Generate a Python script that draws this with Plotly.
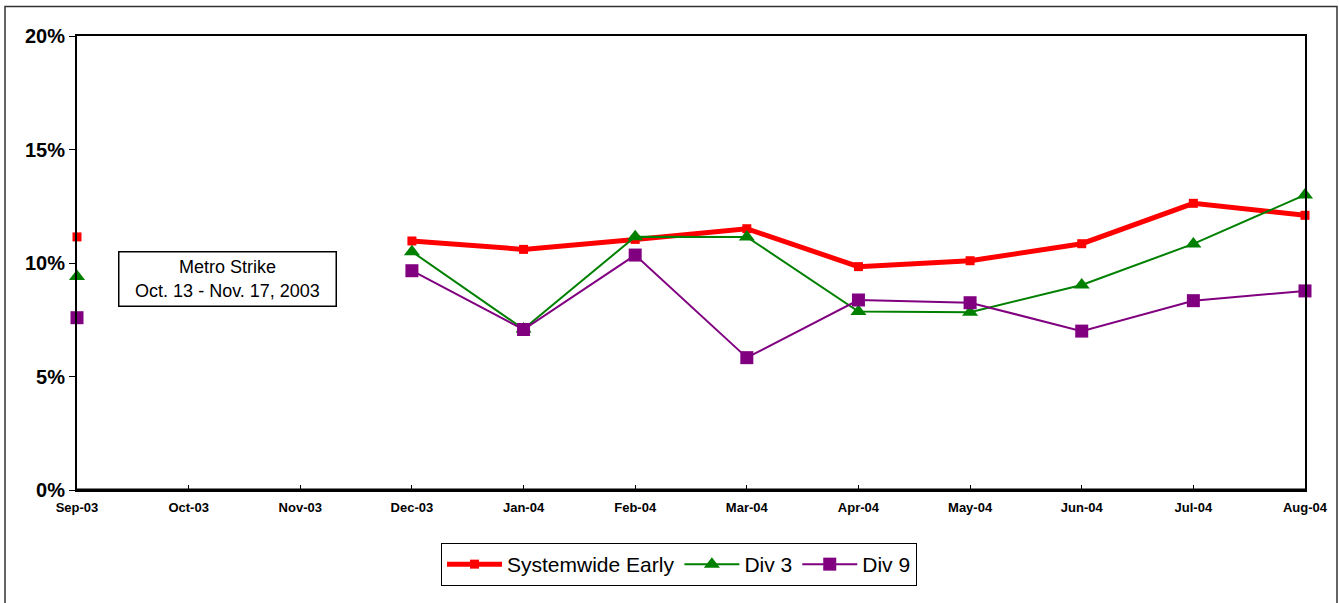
import plotly.graph_objects as go

months = ["Sep-03", "Oct-03", "Nov-03", "Dec-03", "Jan-04", "Feb-04", "Mar-04",
          "Apr-04", "May-04", "Jun-04", "Jul-04", "Aug-04"]
systemwide = [0.1115, None, None, 0.1097, 0.1060, 0.1104, 0.1151, 0.0984, 0.1010, 0.1085, 0.1263, 0.1210]
div3 = [0.0940, None, None, 0.1050, 0.0709, 0.1116, 0.1115, 0.0786, 0.0783, 0.0903, 0.1084, 0.1300]
div9 = [0.0759, None, None, 0.0966, 0.0707, 0.1035, 0.0583, 0.0837, 0.0825, 0.0700, 0.0834, 0.0877]

FONT = "Liberation Sans, Arial, sans-serif"
x = list(range(len(months)))

fig = go.Figure()
fig.add_trace(go.Scatter(x=x, y=systemwide, name="Systemwide Early", mode="lines+markers",
                         line=dict(color="#FF0000", width=5),
                         marker=dict(symbol="square", size=9, color="#FF0000"),
                         cliponaxis=False))
fig.add_trace(go.Scatter(x=x, y=div3, name="Div 3", mode="lines+markers",
                         line=dict(color="#008000", width=2),
                         marker=dict(symbol="triangle-up", size=14, color="#008000"),
                         cliponaxis=False))
fig.add_trace(go.Scatter(x=x, y=div9, name="Div 9", mode="lines+markers",
                         line=dict(color="#800080", width=2),
                         marker=dict(symbol="square", size=13, color="#800080"),
                         cliponaxis=False))

L, R, T, B = 77, 34, 36, 113
W, H = 1339, 603
pw, ph = W - L - R, H - T - B

def px_x(v):
    return (v - L) / pw

def px_y(v):
    return (H - B - v) / ph

fig.update_layout(
    width=W, height=H,
    margin=dict(l=L, r=R, t=T, b=B, pad=0),
    paper_bgcolor="white", plot_bgcolor="white",
    font=dict(family=FONT, color="black"),
    showlegend=True,
    legend=dict(orientation="h", x=px_x(441), y=px_y(543), xanchor="left", yanchor="top",
                bordercolor="black", borderwidth=1, bgcolor="white",
                font=dict(family=FONT, size=21, color="black"),
                itemwidth=55, tracegroupgap=0),
    xaxis=dict(range=[0, 11], tickmode="array", tickvals=x, ticktext=months,
               showgrid=False, zeroline=False,
               showline=True, linecolor="black", linewidth=2, mirror=True,
               ticks="inside", ticklen=5, tickcolor="black", tickwidth=1,
               tickfont=dict(family=FONT, size=13, color="black", weight="bold"),
               ticklabelstandoff=4),
    yaxis=dict(range=[0, 0.20], dtick=0.05, tickformat=".0%",
               showgrid=False, zeroline=False,
               showline=True, linecolor="black", linewidth=2, mirror=True,
               ticks="outside", ticklen=6, tickcolor="black", tickwidth=1,
               tickfont=dict(family=FONT, size=20, color="black", weight="bold")),
    annotations=[dict(text="Metro Strike<br>Oct. 13 - Nov. 17, 2003",
                      xref="paper", yref="paper", x=px_x(227.5), y=px_y(278.5),
                      xanchor="center", yanchor="middle", showarrow=False,
                      font=dict(family=FONT, size=18, color="black"),
                      bordercolor="black", borderwidth=1.5, bgcolor="white",
                      width=214, height=51, borderpad=1, align="center")],
    shapes=[dict(type="rect", xref="paper", yref="paper",
                 x0=px_x(5), x1=px_x(1337), y0=px_y(620), y1=px_y(6.5),
                 line=dict(color="#333333", width=1.5), fillcolor="rgba(0,0,0,0)",
                 layer="below"),
            dict(type="line", xref="paper", yref="paper",
                 x0=0, x1=1, y0=0, y1=0, line=dict(color="black", width=3))],
)

fig.write_html("out.html", config={"displayModeBar": False},
               post_script="document.body.style.margin='0';document.body.style.overflow='hidden';")
